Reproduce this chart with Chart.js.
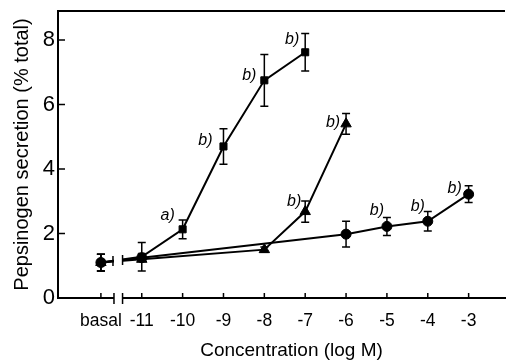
<!DOCTYPE html>
<html><head><meta charset="utf-8">
<script src="https://cdn.jsdelivr.net/npm/chart.js@4/dist/chart.umd.min.js"></script>
<style>html,body{margin:0;padding:0;background:#fff}canvas{display:block}</style>
</head><body>
<canvas id="c" width="512" height="362"></canvas>
<script>
const xTickValues = [-12,-11,-10,-9,-8,-7,-6,-5,-4,-3];
const xTickLabels = ['basal','-11','-10','-9','-8','-7','-6','-5','-4','-3'];
const yTickValues = [0,2,4,6,8];
const squareX = [-12,-11,-10,-9,-8,-7];
const squareY = [1.1,1.28,2.13,4.7,6.75,7.62];
const squareErr = [0.26,0.44,0.29,0.55,0.8,0.58];
const triangleX = [-12,-11,-8,-7,-6];
const triangleY = [1.1,1.2,1.5,2.68,5.4];
const triangleErr = [0.26,0,0.08,0.33,0.32];
const circleX = [-12,-11,-6,-5,-4,-3];
const circleY = [1.1,1.25,1.98,2.22,2.38,3.22];
const circleErr = [0.26,0,0.4,0.28,0.3,0.26];
const squareNotes = ['','','a)','b)','b)','b)'];
const triangleNotes = ['','','','b)','b)'];
const circleNotes = ['','','','b)','b)','b)'];
const xTitle = 'Concentration (log M)';
const yTitle = 'Pepsinogen secretion (% total)';
const axisBreak = [-11.68,-11.47];

// note label offsets (style only)
const squareNoteOffsets = [null,null,[-15,-14],[-18,-6],[-15,-5],[-13,-13]];
const triangleNoteOffsets = [null,null,null,[-11,-10],[-13,-1]];
const circleNoteOffsets = [null,null,null,[-10,-16],[-10,-15],[-14,-6]];

function mk(xs, ys, errs, notes, offs, style, r){
  return {
    data: xs.map((v,i)=>({x:v,y:ys[i]})),
    err: errs, notes: notes, noteOffsets: offs,
    showLine:true, borderColor:'#000', backgroundColor:'#000', borderWidth:2,
    pointStyle:style, pointRadius:r, pointBorderWidth:1, pointBorderColor:'#000', pointBackgroundColor:'#000',
    tension:0
  };
}

const decor = {
  id:'decor',
  afterDatasetsDraw(chart){
    const {ctx, chartArea:a, scales:{x,y}} = chart;
    ctx.save();
    ctx.strokeStyle='#000'; ctx.lineWidth=1.5;
    chart.data.datasets.forEach((ds)=>{
      ds.data.forEach((p,i)=>{
        const e = ds.err[i]; if(!e) return;
        const px = x.getPixelForValue(p.x);
        const y1 = y.getPixelForValue(p.y+e), y2 = y.getPixelForValue(p.y-e);
        ctx.beginPath(); ctx.moveTo(px,y1); ctx.lineTo(px,y2);
        ctx.moveTo(px-4,y1); ctx.lineTo(px+4,y1); ctx.moveTo(px-4,y2); ctx.lineTo(px+4,y2); ctx.stroke();
      });
    });
    // axis break gap
    const b0 = x.getPixelForValue(axisBreak[0]), b1 = x.getPixelForValue(axisBreak[1]);
    ctx.fillStyle='#fff';
    ctx.fillRect(b0, a.top+2, b1-b0, a.bottom - a.top + 2);
    ctx.lineWidth=1.5;
    ctx.beginPath();
    ctx.moveTo(b0, a.bottom-5); ctx.lineTo(b0, a.bottom+6);
    ctx.moveTo(b1, a.bottom-5); ctx.lineTo(b1, a.bottom+6);
    const d0 = chart.data.datasets[0].data;
    const xa = x.getPixelForValue(d0[0].x), ya = y.getPixelForValue(d0[0].y);
    const xb = x.getPixelForValue(d0[1].x), yb = y.getPixelForValue(d0[1].y);
    [b0-1,b1].forEach(bx=>{
      const by = ya + (yb-ya)*(bx-xa)/(xb-xa);
      ctx.moveTo(bx, by-5); ctx.lineTo(bx, by+5);
    });
    ctx.stroke();
    // inside ticks
    ctx.beginPath();
    yTickValues.forEach(v=>{const py=y.getPixelForValue(v); ctx.moveTo(a.left, py); ctx.lineTo(a.left+7, py);});
    xTickValues.forEach(v=>{const px=x.getPixelForValue(v); ctx.moveTo(px, a.bottom+1); ctx.lineTo(px, a.bottom-5);});
    ctx.stroke();
    // top border
    ctx.lineWidth=2;
    ctx.beginPath(); ctx.moveTo(a.left-1, a.top); ctx.lineTo(a.right, a.top); ctx.stroke();
    // notes
    ctx.fillStyle='#000';
    ctx.font='italic 16px "Liberation Sans", Arial, sans-serif';
    ctx.textAlign='center'; ctx.textBaseline='middle';
    chart.data.datasets.forEach((ds,di)=>{
      const meta = chart.getDatasetMeta(di);
      ds.notes.forEach((t,i)=>{
        if(!t) return;
        const el = meta.data[i]; const off = ds.noteOffsets[i] || [-12,-10];
        ctx.fillText(t, el.x+off[0], el.y+off[1]);
      });
    });
    // x title
    ctx.font='19px "Liberation Sans", Arial, sans-serif';
    ctx.fillText(xTitle, (a.left+a.right)/2+10, chart.height-11);
    ctx.restore();
  }
};

new Chart(document.getElementById('c'), {
  type:'scatter',
  data:{datasets:[
    mk(circleX, circleY, circleErr, circleNotes, circleNoteOffsets, 'circle', 5),
    mk(triangleX, triangleY, triangleErr, triangleNotes, triangleNoteOffsets, 'triangle', 6),
    mk(squareX, squareY, squareErr, squareNotes, squareNoteOffsets, 'rect', 5)
  ]},
  options:{
    responsive:false, animation:false, devicePixelRatio:1,
    layout:{padding:{top:11,right:0,left:0,bottom:0}},
    plugins:{legend:{display:false}, tooltip:{enabled:false}},
    scales:{
      x:{type:'linear', min:-13.05, max:-2.11,
        grid:{display:false, drawTicks:false},
        border:{display:true, color:'#000', width:2},
        afterBuildTicks:(s)=>{s.ticks = xTickValues.map(v=>({value:v}));},
        ticks:{autoSkip:false, maxRotation:0, padding:13, color:'#000',
          font:{family:'"Liberation Sans", Arial, sans-serif', size:17.5},
          callback:(v)=>{const i=xTickValues.indexOf(v); return i>=0?xTickLabels[i]:'';}},
        afterFit:(s)=>{s.height=64; s.paddingLeft=0; s.paddingRight=0;}
      },
      y:{min:0, max:8.9,
        grid:{display:false, drawTicks:false},
        border:{display:true, color:'#000', width:2},
        afterBuildTicks:(s)=>{s.ticks = yTickValues.map(v=>({value:v}));},
        ticks:{padding:3, color:'#000', font:{family:'"Liberation Sans", Arial, sans-serif', size:22}},
        title:{display:true, text:yTitle, color:'#000', padding:{top:10,bottom:0},
          font:{family:'"Liberation Sans", Arial, sans-serif', size:20}},
        afterFit:(s)=>{s.width=58; s.paddingTop=0; s.paddingBottom=0;}
      }
    }
  },
  plugins:[decor]
});
</script>
</body></html>
